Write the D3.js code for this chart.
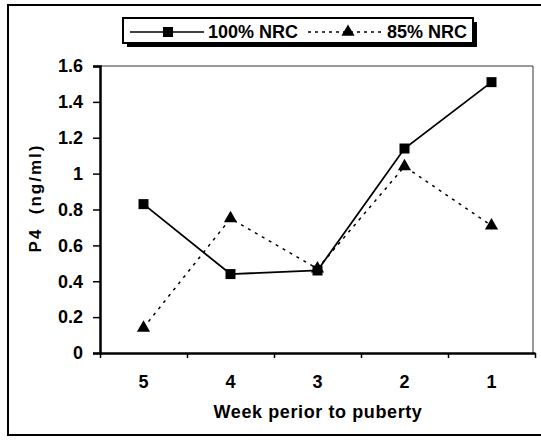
<!DOCTYPE html>
<html>
<head>
<meta charset="utf-8">
<script src="https://cdn.jsdelivr.net/npm/d3@7"></script>
<style>
  body { margin: 0; background: #fff; }
  svg text { font-family: "Liberation Sans", Arial, sans-serif; font-weight: bold; fill: #000; }
</style>
</head>
<body>
<script>
// chart data
var weeks = ["5", "4", "3", "2", "1"];
var nrc100 = [0.83, 0.44, 0.46, 1.14, 1.51];
var nrc85 = [0.14, 0.75, 0.47, 1.04, 0.71];
var yTicks = [0, 0.2, 0.4, 0.6, 0.8, 1, 1.2, 1.4, 1.6];
var seriesNames = ["100% NRC", "85% NRC"];

var width = 541, height = 446;
var plotLeft = 100, plotRight = 535, plotTop = 66, plotBottom = 353;

var svg = d3.select("body").append("svg")
    .attr("width", width)
    .attr("height", height);

// outer frame
svg.append("rect")
  .attr("x", 8).attr("y", 5)
  .attr("width", 545).attr("height", 430)
  .style("fill", "none")
  .style("stroke", "#000")
  .style("stroke-width", 2);

var x = d3.scaleBand().domain(weeks).range([plotLeft, plotRight]);
var xi = d3.scaleLinear().domain([0, weeks.length]).range([plotLeft, plotRight]);
var y = d3.scaleLinear().domain([0, 1.6]).range([plotBottom, plotTop]);

// plot frame (top/right)
svg.append("path")
  .attr("d", "M" + plotLeft + "," + y(1.6) + "H" + (plotRight - 2) + "V" + plotBottom)
  .style("fill", "none")
  .style("stroke", "#333")
  .style("stroke-width", 1);

// y axis
var yAxis = svg.append("g")
  .attr("transform", "translate(" + plotLeft + ",0)")
  .call(d3.axisLeft(y).tickValues(yTicks).tickSize(7).tickPadding(10)
    .tickFormat(function(d){ return String(+d.toFixed(1)); }));
yAxis.select(".domain").style("stroke-width", 2.5);
yAxis.selectAll(".tick line").style("stroke-width", 1.5);
yAxis.selectAll("text")
  .style("font-size", "18px")
  .style("font-family", "Liberation Sans, Arial, sans-serif")
  .style("font-weight", "bold");

// x axis: ticks between categories
var xAxis = svg.append("g")
  .attr("transform", "translate(0," + plotBottom + ")")
  .call(d3.axisBottom(xi).ticks(weeks.length).tickSize(5).tickSizeOuter(0).tickFormat(""));
xAxis.select(".domain").style("stroke-width", 2.5);
xAxis.selectAll(".tick line").style("stroke-width", 1.5);

svg.selectAll(".xlabel")
    .data(weeks)
  .enter().append("text")
    .attr("class", "xlabel")
    .attr("x", function(d){ return x(d) + x.bandwidth()/2; })
    .attr("y", 388)
    .attr("text-anchor", "middle")
    .style("font-size", "18px")
    .text(String);

// axis titles
svg.append("text")
  .attr("x", 318).attr("y", 418)
  .attr("text-anchor", "middle")
  .style("font-size", "18px")
  .style("letter-spacing", "0.6px")
  .text("Week perior to puberty");

svg.append("text")
  .attr("transform", "translate(41,198)rotate(-90)")
  .attr("text-anchor", "middle")
  .style("font-size", "17px")
  .style("letter-spacing", "2px")
  .style("white-space", "pre")
  .text("P4  (ng/ml)");

// series
var line = d3.line()
  .x(function(d, i){ return x(weeks[i]) + x.bandwidth()/2; })
  .y(function(d){ return y(d); });

svg.append("path")
  .datum(nrc85)
  .attr("d", line)
  .style("fill", "none")
  .style("stroke", "#000")
  .style("stroke-width", 1.5)
  .style("stroke-dasharray", "3,5");

svg.append("path")
  .datum(nrc100)
  .attr("d", line)
  .style("fill", "none")
  .style("stroke", "#000")
  .style("stroke-width", 1.8);

var tri = d3.symbol().type(d3.symbolTriangle).size(75);
var sq = d3.symbol().type(d3.symbolSquare).size(100);

svg.selectAll(".tri")
    .data(nrc85)
  .enter().append("path")
    .attr("class", "tri")
    .attr("d", tri)
    .attr("transform", function(d, i){
      return "translate(" + (x(weeks[i]) + x.bandwidth()/2) + "," + y(d) + ")";
    })
    .style("fill", "#000");

svg.selectAll(".sq")
    .data(nrc100)
  .enter().append("path")
    .attr("class", "sq")
    .attr("d", sq)
    .attr("transform", function(d, i){
      return "translate(" + (x(weeks[i]) + x.bandwidth()/2) + "," + y(d) + ")";
    })
    .style("fill", "#000");

// legend
var legend = svg.append("g");
legend.append("rect")
  .attr("x", 127).attr("y", 22)
  .attr("width", 350).attr("height", 25)
  .style("fill", "#000");
legend.append("rect")
  .attr("x", 123).attr("y", 18)
  .attr("width", 350).attr("height", 25)
  .style("fill", "#fff")
  .style("stroke", "#000")
  .style("stroke-width", 2);

legend.append("line")
  .attr("x1", 130).attr("x2", 204).attr("y1", 32).attr("y2", 32)
  .style("stroke", "#000").style("stroke-width", 1.5);
legend.append("path")
  .attr("d", sq).attr("transform", "translate(168,32)")
  .style("fill", "#000");
legend.append("text")
  .attr("x", 208).attr("y", 38)
  .style("font-size", "18px")
  .text(seriesNames[0]);

legend.append("line")
  .attr("x1", 308).attr("x2", 384).attr("y1", 32).attr("y2", 32)
  .style("stroke", "#000").style("stroke-width", 1.5)
  .style("stroke-dasharray", "3,4");
legend.append("path")
  .attr("d", tri).attr("transform", "translate(348,32)")
  .style("fill", "#000");
legend.append("text")
  .attr("x", 387).attr("y", 38)
  .style("font-size", "18px")
  .text(seriesNames[1]);
</script>
</body>
</html>
